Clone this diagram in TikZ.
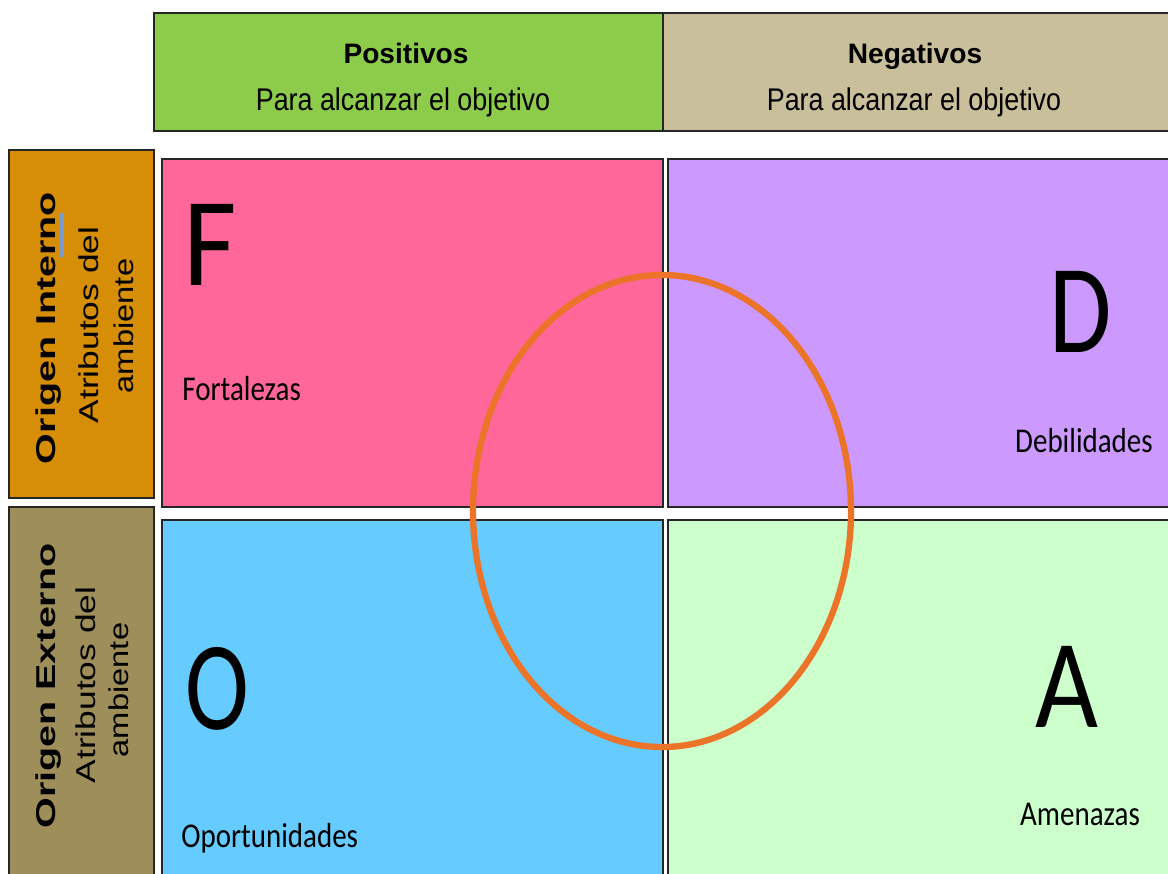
\documentclass[tikz,border=0pt]{standalone}
\usepackage{fontspec}
\usepackage{graphicx}
\setmainfont{Liberation Sans}
\newfontfamily\calib{Carlito}
\definecolor{posgreen}{HTML}{8DCB4A}
\definecolor{negtan}{HTML}{C9BF9B}
\definecolor{intorange}{HTML}{D58E05}
\definecolor{extolive}{HTML}{9E8F5A}
\definecolor{fpink}{HTML}{FF6699}
\definecolor{dpurple}{HTML}{CC99FF}
\definecolor{oblue}{HTML}{66CCFF}
\definecolor{agreen}{HTML}{CCFFCC}
\definecolor{ringorange}{HTML}{EC7428}
\definecolor{cursorblue}{HTML}{7A9CD0}

\begin{document}
\begin{tikzpicture}[x=0.02cm,y=-0.02cm]
    \tikzset{cell/.style={draw=black!85, line width=1.1pt}}
    \tikzset{head/.style={anchor=base, font=\fontsize{16}{19}\selectfont\bfseries}}
    \tikzset{sub/.style={anchor=base, font=\fontsize{17}{20}\selectfont}}
    \tikzset{side/.style={rotate=90, anchor=base, font=\fontsize{15.5}{18}\selectfont}}
    \tikzset{letter/.style={anchor=base, inner sep=0pt, font=\calib\fontsize{72}{80}\selectfont}}
    \tikzset{tag/.style={anchor=base, inner sep=0pt, font=\calib\fontsize{16.5}{20}\selectfont}}
    \tikzset{ring/.style={draw=ringorange, line width=3.6pt}}
    \clip (0,0) rectangle (1168,873);
    \fill[white] (0,0) rectangle (1168,873);
    % header row
    \draw[cell, fill=posgreen] (154,13) rectangle (663,131);
    \draw[cell, fill=negtan] (663,13) rectangle (1175,131);
    \node[head] (positivos) at (406,63) {Positivos};
    \node[sub] (objpos) at (403,110) {\scalebox{0.9}[1.05]{Para alcanzar el objetivo}};
    \node[head] (negativos) at (915,63) {Negativos};
    \node[sub] (objneg) at (914,110) {\scalebox{0.9}[1.05]{Para alcanzar el objetivo}};
    % side column
    \draw[cell, fill=intorange] (9,150) rectangle (154,498);
    \draw[cell, fill=extolive] (9,507) rectangle (154,880);
    \node[side] (interno) at (55,328) {\scalebox{1.45}[1]{\bfseries Origen Interno}};
    \node[side] (atribint) at (98,325) {\scalebox{1.3}[1]{Atributos del}};
    \node[side] (ambint) at (133,326) {\scalebox{1.2}[1]{ambiente}};
    \node[side] (externo) at (55,686) {\scalebox{1.45}[1]{\bfseries Origen Externo}};
    \node[side] (atribext) at (95,685) {\scalebox{1.3}[1]{Atributos del}};
    \node[side] (ambext) at (128,690) {\scalebox{1.2}[1]{ambiente}};
    \draw[cursorblue, line width=2pt] (62,213) -- (62,257);
    % quadrants
    \draw[cell, fill=fpink] (162,159) rectangle (663,507);
    \draw[cell, fill=dpurple] (668,159) rectangle (1175,507);
    \draw[cell, fill=oblue] (162,520) rectangle (663,880);
    \draw[cell, fill=agreen] (668,520) rectangle (1175,880);
    \node[letter, anchor=base west] (F) at (183,285) {\scalebox{0.92}[1]{F}};
    \node[tag, anchor=base west] (fortalezas) at (182,400) {\scalebox{1}[1.2]{Fortalezas}};
    \node[letter] (D) at (1081,352) {\scalebox{0.8}[1]{D}};
    \node[tag] (debilidades) at (1084,452) {\scalebox{1}[1.2]{Debilidades}};
    \node[letter] (O) at (217,729) {\scalebox{0.76}[1]{O}};
    \node[tag, anchor=base west] (oportunidades) at (181,847) {\scalebox{1}[1.2]{Oportunidades}};
    \node[letter] (A) at (1067,727) {\scalebox{0.86}[1]{A}};
    \node[tag] (amenazas) at (1080,825) {\scalebox{1}[1.2]{Amenazas}};
    % ring
    \draw[ring] (662,511) ellipse [x radius=189, y radius=236];
\end{tikzpicture}
\end{document}
